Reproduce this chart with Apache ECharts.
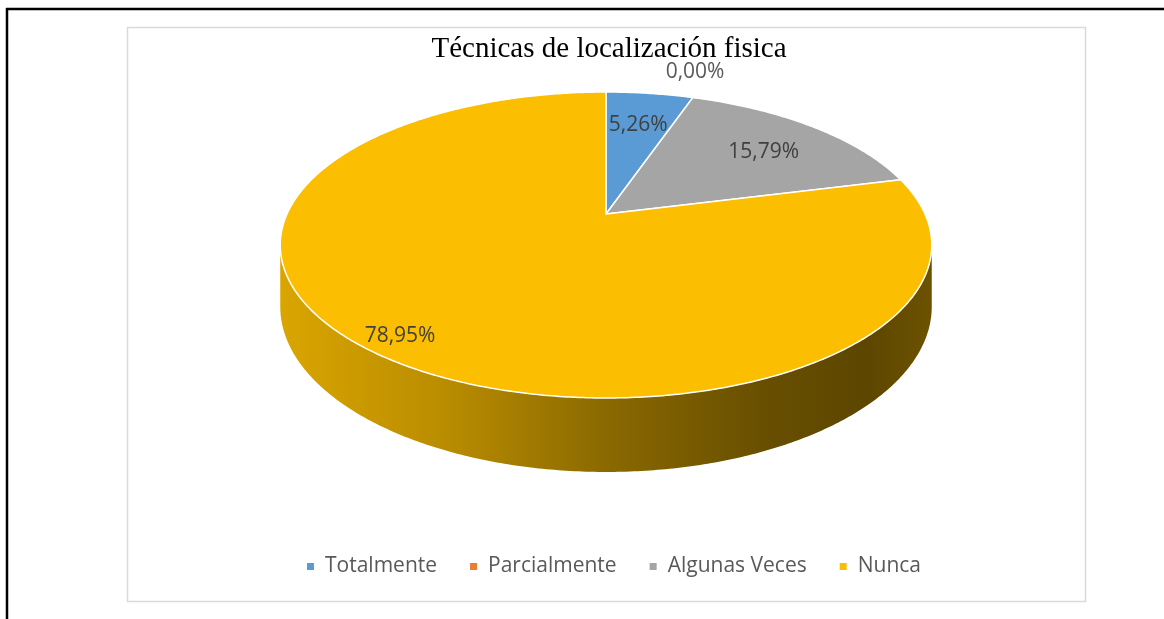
<!DOCTYPE html>
<html>
<head>
<meta charset="utf-8">
<title>Técnicas de localización fisica</title>
<script src="https://cdn.jsdelivr.net/npm/echarts@6/dist/echarts.min.js"></script>
<style>
  html, body { margin: 0; padding: 0; background: #fff; }
  #chart { width: 1164px; height: 619px; }
</style>
</head>
<body>
<div id="chart"></div>
<script>
  // datos
  const categories = ['Totalmente', 'Parcialmente', 'Algunas Veces', 'Nunca'];
  const values = [5.26, 0.00, 15.79, 78.95];

  // estilo
  const colors = ['#5B9BD5', '#ED7D31', '#A5A5A5', '#FBBE00'];
  const labelRadius = [0.7, 1.03, 0.74, 0.9];
  const labelFont = '21px "Open Sans"';

  // geometría de la tarta en perspectiva
  const CX = 606, CY = 214, RX = 319, RY = 146.7, E = 0.2026, TH = 59;
  const VIS0 = Math.acos(-E), VIS1 = 2 * Math.PI - Math.acos(-E);

  const total = values.reduce((s, v) => s + v, 0);
  const starts = [];
  let acc = 0;
  values.forEach(v => { starts.push(acc / total * 2 * Math.PI); acc += v; });

  function proj(a, r) {
    const u = r * Math.sin(a), v = -r * Math.cos(a);
    const w = 1 - E * v;
    return [CX + RX * u / w, CY + RY * v / w, w];
  }
  function arc(a0, a1) {
    const n = Math.max(2, Math.ceil((a1 - a0) / 0.01));
    const pts = [];
    for (let k = 0; k <= n; k++) pts.push(proj(a0 + (a1 - a0) * k / n, 1));
    return pts;
  }
  function shade(hex, f) {
    const c = echarts.color.parse(hex);
    return 'rgb(' + Math.round(c[0] * f) + ',' + Math.round(c[1] * f) + ',' + Math.round(c[2] * f) + ')';
  }
  function fmt(v) { return v.toFixed(2).replace('.', ',') + '%'; }

  function makeRender(i) {
    return function (params, api) {
      const val = api.value(0);
      const a0 = starts[i], a1 = a0 + val / total * 2 * Math.PI;
      const children = [];
      if (val > 0) {
        // lateral
        const s = Math.max(a0, VIS0), e = Math.min(a1, VIS1);
        if (e > s) {
          const top = arc(s, e);
          const bottom = top.map(p => [p[0], p[1] + TH / p[2]]).reverse();
          const x0 = CX - RX * 1.021, x1 = CX + RX * 1.021;
          const base = colors[i];
          children.push({
            type: 'polygon',
            z2: 1,
            shape: { points: top.map(p => [p[0], p[1]]).concat(bottom) },
            style: {
              fill: new echarts.graphic.LinearGradient(x0, 0, x1, 0, [
                { offset: 0, color: shade(base, 0.87) },
                { offset: 0.25, color: shade(base, 0.74) },
                { offset: 0.5, color: shade(base, 0.55) },
                { offset: 0.75, color: shade(base, 0.41) },
                { offset: 0.9, color: shade(base, 0.37) },
                { offset: 1, color: shade(base, 0.43) }
              ], true)
            }
          });
        }
        // cara superior
        const pts = [[CX, CY]].concat(arc(a0, a1).map(p => [p[0], p[1]]));
        children.push({
          type: 'polygon',
          z2: 10,
          shape: { points: pts },
          style: { fill: colors[i], stroke: '#fff', lineWidth: 1.5 }
        });
      }
      // etiqueta: dentro del sector, o encima del borde si el valor es 0
      const inside = val > 0;
      const lp = proj((a0 + a1) / 2, labelRadius[i]);
      children.push({
        type: 'text',
        z2: 20,
        x: lp[0], y: inside ? lp[1] + (i === 2 ? 5 : 0) : lp[1] - 12,
        style: {
          text: fmt(val),
          font: labelFont,
          fill: inside ? '#404040' : '#595959',
          align: 'center', verticalAlign: inside ? 'middle' : 'bottom'
        }
      });
      return { type: 'group', children: children };
    };
  }

  const chart = echarts.init(document.getElementById('chart'));
  const option = {
    animation: false,
    backgroundColor: '#fff',
    title: {
      text: 'Técnicas de localización fisica',
      left: 604,
      textAlign: 'center',
      top: 30,
      textStyle: { fontFamily: 'Liberation Serif', fontSize: 29, fontWeight: 'normal', color: '#000' }
    },
    legend: {
      data: categories,
      left: 302,
      top: 551,
      icon: 'rect',
      itemWidth: 7,
      itemHeight: 7,
      itemGap: 33,
      textStyle: { fontFamily: 'Open Sans', fontSize: 21, color: '#595959', padding: [0, 0, 0, 6] }
    },
    graphic: [
      { type: 'line', shape: { x1: 6, y1: 9, x2: 1164, y2: 9 }, style: { stroke: '#000', lineWidth: 2.5 } },
      { type: 'line', shape: { x1: 7, y1: 8, x2: 7, y2: 619 }, style: { stroke: '#000', lineWidth: 2.5 } },
      { type: 'rect', shape: { x: 127.5, y: 27.5, width: 958, height: 574 }, style: { fill: 'none', stroke: '#DADADA', lineWidth: 1.5 } }
    ],
    series: categories.map((name, i) => ({
      name: name,
      type: 'custom',
      coordinateSystem: 'none',
      itemStyle: { color: colors[i] },
      renderItem: makeRender(i),
      data: [values[i]]
    }))
  };
  chart.setOption(option);
</script>
</body>
</html>
